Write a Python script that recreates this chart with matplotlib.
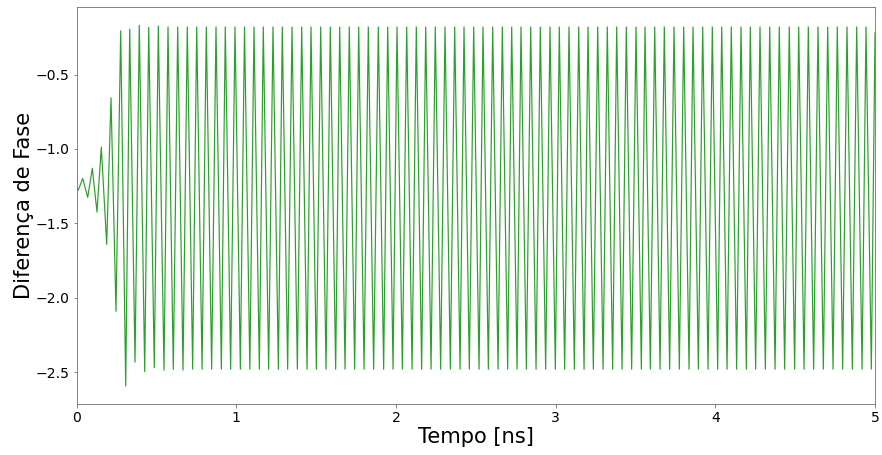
import numpy as np
import matplotlib
matplotlib.use("Agg")
import matplotlib.pyplot as plt

# ---- data (time in ns, phase difference) ----
start_t = 0.0
start_v = -1.265
end_t = 5.0
end_v = -0.22

peak_t = [
    0.0376, 0.0977, 0.1541, 0.2148, 0.2756, 0.3320, 0.3921, 0.4510, 0.5111, 0.5718,
    0.6326, 0.6927, 0.7516, 0.8117, 0.8725, 0.9307, 0.9915, 1.0510, 1.1105, 1.1687,
    1.2295, 1.2877, 1.3485, 1.4092, 1.4675, 1.5282, 1.5884, 1.6472, 1.7074, 1.7662,
    1.8264, 1.8890, 1.9479, 2.0061, 2.0669, 2.1270, 2.1859, 2.2460, 2.3068, 2.3675,
    2.4258, 2.4865, 2.5448, 2.6055, 2.6657, 2.7245, 2.7828, 2.8435, 2.9037, 2.9644,
    3.0227, 3.0834, 3.1442, 3.2024, 3.2632, 3.3233, 3.3822, 3.4423, 3.5031, 3.5594,
    3.6202, 3.6803, 3.7411, 3.8018, 3.8601, 3.9208, 3.9810, 4.0398, 4.0999, 4.1607,
    4.2189, 4.2797, 4.3405, 4.4006, 4.4632, 4.5221, 4.5822, 4.6430, 4.7037, 4.7639,
    4.8246, 4.8854, 4.9436,
]
peak_v = [
    -1.198, -1.130, -0.987, -0.657, -0.206, -0.194, -0.169, -0.183, -0.174, -0.18,
    -0.18, -0.18, -0.18, -0.18, -0.18, -0.18, -0.18, -0.18, -0.18, -0.18,
    -0.18, -0.18, -0.18, -0.18, -0.18, -0.18, -0.18, -0.18, -0.18, -0.18,
    -0.18, -0.18, -0.18, -0.18, -0.18, -0.18, -0.18, -0.18, -0.18, -0.18,
    -0.18, -0.18, -0.18, -0.18, -0.18, -0.18, -0.18, -0.18, -0.18, -0.18,
    -0.18, -0.18, -0.18, -0.18, -0.18, -0.18, -0.18, -0.18, -0.18, -0.18,
    -0.18, -0.18, -0.18, -0.18, -0.18, -0.18, -0.18, -0.18, -0.18, -0.18,
    -0.18, -0.18, -0.18, -0.18, -0.18, -0.18, -0.18, -0.18, -0.18, -0.18,
    -0.18, -0.18, -0.18,
]

trough_t = [
    0.0100, 0.0689, 0.1271, 0.1879, 0.2461, 0.3069, 0.3652, 0.4259, 0.4860, 0.5468,
    0.6050, 0.6658, 0.7262, 0.7851, 0.8452, 0.9060, 0.9642, 1.0250, 1.0845, 1.1440,
    1.2022, 1.2630, 1.3212, 1.3820, 1.4427, 1.5010, 1.5617, 1.6219, 1.6807, 1.7409,
    1.7997, 1.8599, 1.9225, 1.9814, 2.0396, 2.1004, 2.1605, 2.2194, 2.2795, 2.3403,
    2.4010, 2.4593, 2.5200, 2.5783, 2.6390, 2.6992, 2.7580, 2.8163, 2.8770, 2.9372,
    2.9979, 3.0562, 3.1169, 3.1777, 3.2359, 3.2967, 3.3568, 3.4157, 3.4758, 3.5366,
    3.5929, 3.6537, 3.7138, 3.7746, 3.8353, 3.8936, 3.9543, 4.0145, 4.0733, 4.1334,
    4.1942, 4.2524, 4.3132, 4.3740, 4.4341, 4.4967, 4.5556, 4.6157, 4.6765, 4.7372,
    4.7974, 4.8581, 4.9189, 4.9771,
]
trough_v = [
    -1.276, -1.325, -1.424, -1.641, -2.091, -2.593, -2.432, -2.497, -2.470, -2.486,
    -2.481, -2.486, -2.48, -2.48, -2.48, -2.48, -2.48, -2.48, -2.48, -2.48,
    -2.48, -2.48, -2.48, -2.48, -2.48, -2.48, -2.48, -2.48, -2.48, -2.48,
    -2.48, -2.48, -2.48, -2.48, -2.48, -2.48, -2.48, -2.48, -2.48, -2.48,
    -2.48, -2.48, -2.48, -2.48, -2.48, -2.48, -2.48, -2.48, -2.48, -2.48,
    -2.48, -2.48, -2.48, -2.48, -2.48, -2.48, -2.48, -2.48, -2.48, -2.48,
    -2.48, -2.48, -2.48, -2.48, -2.48, -2.48, -2.48, -2.48, -2.48, -2.48,
    -2.48, -2.48, -2.48, -2.48, -2.48, -2.48, -2.48, -2.48, -2.48, -2.48,
    -2.48, -2.48, -2.48, -2.48,
]

xlabel = "Tempo [ns]"
ylabel = "Diferença de Fase"
xticks = [0, 1, 2, 3, 4, 5]
yticks = [-2.5, -2.0, -1.5, -1.0, -0.5]

# ---- assemble the series ----
t = np.concatenate([[start_t], peak_t, trough_t, [end_t]])
v = np.concatenate([[start_v], peak_v, trough_v, [end_v]])
order = np.argsort(t)
t = t[order]
v = v[order]

fig = plt.figure(figsize=(882 / 72, 455 / 72), dpi=72)
ax = fig.add_axes([76.7 / 882, 1 - 404.3 / 455, (875 - 76.7) / 882, (404.3 - 7.3) / 455])
ax.plot(t, v, color="#2ca02c", linewidth=1.2)

ax.set_xlim(0, 5)
ax.set_ylim(-2.716, -0.048)
ax.set_xticks(xticks)
ax.set_xticklabels([str(x) for x in xticks])
ax.set_yticks(yticks)
ax.tick_params(axis="both", labelsize=14, color="dimgray", length=3.5)
for s in ax.spines.values():
    s.set_color("dimgray")
ax.set_xlabel(xlabel, fontsize=21, labelpad=2)
ax.set_ylabel(ylabel, fontsize=21, labelpad=2)

fig.savefig("out.png", dpi=72)
